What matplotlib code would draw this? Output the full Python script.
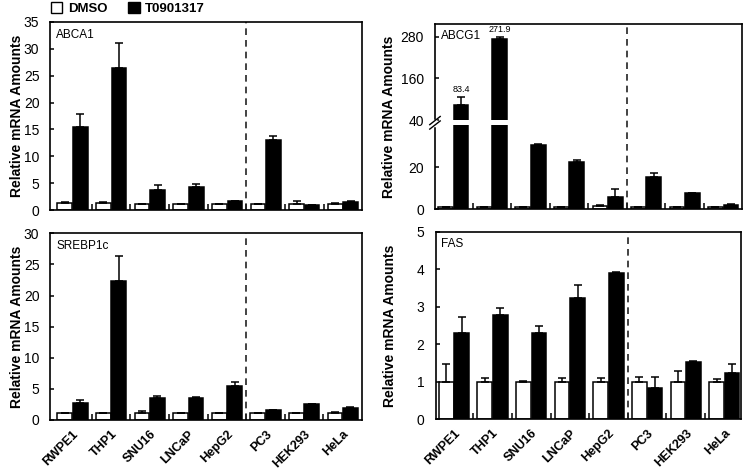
"""qPCR panels: LXR target genes after T0901317 treatment."""

import numpy as np
import matplotlib
matplotlib.use("Agg")
import matplotlib.pyplot as plt
from matplotlib.patches import Patch, Rectangle


CELLS = ["RWPE1", "THP1", "SNU16", "LNCaP", "HepG2", "PC3", "HEK293", "HeLa"]

abca1_dmso = [1.3, 1.3, 1.2, 1.2, 1.2, 1.2, 1.2, 1.2]
abca1_dmso_err = [0.1, 0.1, 0.0, 0.0, 0.0, 0.0, 0.5, 0.1]
abca1_t09 = [15.5, 26.5, 3.8, 4.3, 1.7, 13.0, 1.0, 1.5]
abca1_t09_err = [2.4, 4.6, 0.8, 0.6, 0.0, 0.7, 0.0, 0.2]

abcg1_dmso = [1.0, 1.0, 1.0, 1.0, 1.5, 1.0, 1.0, 1.0]
abcg1_dmso_err = [0.0, 0.0, 0.0, 0.0, 0.5, 0.0, 0.0, 0.0]
abcg1_t09 = [83.4, 271.9, 30.4, 22.3, 5.7, 15.5, 7.6, 2.0]
abcg1_t09_err = [22.0, 6.0, 0.5, 1.2, 4.0, 1.9, 0.0, 0.5]

srebp_dmso = [1.2, 1.2, 1.2, 1.2, 1.2, 1.2, 1.2, 1.2]
srebp_dmso_err = [0.0, 0.0, 0.2, 0.0, 0.0, 0.0, 0.0, 0.15]
srebp_t09 = [2.7, 22.4, 3.5, 3.5, 5.4, 1.6, 2.6, 1.9]
srebp_t09_err = [0.5, 3.9, 0.4, 0.2, 0.7, 0.0, 0.0, 0.2]

fas_dmso = [1.0, 1.0, 1.0, 1.0, 1.0, 1.0, 1.0, 1.0]
fas_dmso_err = [0.48, 0.1, 0.02, 0.1, 0.1, 0.13, 0.29, 0.07]
fas_t09 = [2.29, 2.78, 2.29, 3.22, 3.9, 0.84, 1.52, 1.22]
fas_t09_err = [0.43, 0.17, 0.19, 0.36, 0.02, 0.29, 0.02, 0.24]

# broken y axis for ABCG1: linear up to 40, jump, compressed above
BREAK = 40.0
GAP = 2.4
SQUEEZE = 0.166

NARROW = ["Liberation Sans Narrow", "Liberation Sans", "DejaVu Sans"]
ARIAL = ["Liberation Sans", "DejaVu Sans"]


def fwd(y):
    y = np.asarray(y, dtype=float)
    return np.where(y < BREAK, y, BREAK + GAP + (y - BREAK) * SQUEEZE)


def inv(t):
    t = np.asarray(t, dtype=float)
    upper = BREAK + (t - BREAK - GAP) / SQUEEZE
    return np.where(t < BREAK, t, np.where(t < BREAK + GAP, BREAK, upper))


def draw_panel(ax, title, dmso, dmso_err, t09, t09_err, xlim, show_labels):
    x = np.arange(len(CELLS))
    width = 0.38
    zeros = np.zeros(len(CELLS))
    ax.bar(x - 0.2, dmso, width, color="white", edgecolor="black", linewidth=1.1)
    ax.bar(x + 0.2, t09, width, color="black", edgecolor="black", linewidth=1.1)
    ax.errorbar(x - 0.2, dmso, yerr=[zeros, dmso_err], fmt="none", ecolor="black",
                elinewidth=1.1, capsize=2.8, capthick=1.1)
    ax.errorbar(x + 0.2, t09, yerr=[zeros, t09_err], fmt="none", ecolor="black",
                elinewidth=1.1, capsize=2.8, capthick=1.1)
    ax.axvline(4.5, color="#222222", linestyle=(0, (4, 3)), linewidth=1.2)

    ax.set_xlim(*xlim)
    ax.set_xticks(x)
    ax.set_xticks(np.arange(0.5, 7), minor=True)
    ax.tick_params(axis="x", which="major", length=0)
    ax.tick_params(axis="x", which="minor", direction="in", length=4, width=1.1)
    if show_labels:
        ax.set_xticklabels(CELLS, rotation=45, ha="right", rotation_mode="anchor",
                           family=ARIAL, fontweight="bold", fontsize=9)
        ax.tick_params(axis="x", which="major", pad=6)
    else:
        ax.set_xticklabels([])

    ax.tick_params(axis="y", direction="in", length=3, width=1.1, pad=8,
                   labelsize=10)
    for lab in ax.get_yticklabels():
        lab.set_family(NARROW)
    for spine in ax.spines.values():
        spine.set_linewidth(1.2)

    ax.text(0.018, 0.965, title, transform=ax.transAxes, ha="left", va="top",
            family=ARIAL, fontsize=8.5)
    ax.set_ylabel("Relative mRNA Amounts", family=NARROW, fontweight="bold",
                  fontsize=10, va="center")


def main():
    fig = plt.figure(figsize=(7.47, 4.69), dpi=100)

    ax1 = fig.add_axes([0.0676, 0.5522, 0.4170, 0.4009])
    ax2 = fig.add_axes([0.5823, 0.5537, 0.4110, 0.3951])
    ax3 = fig.add_axes([0.0676, 0.1045, 0.4170, 0.3981])
    ax4 = fig.add_axes([0.5833, 0.1066, 0.4087, 0.3994])

    # ABCA1
    ax1.set_ylim(0, 35)
    ax1.set_yticks(np.arange(0, 36, 5))
    draw_panel(ax1, "ABCA1", abca1_dmso, abca1_dmso_err, abca1_t09, abca1_t09_err,
               (-0.57, 7.49), False)

    # ABCG1 with broken axis
    ax2.set_yscale("function", functions=(fwd, inv))
    top_t = 88.24
    ax2.set_ylim(0, float(inv(top_t)))
    ax2.set_yticks([0, 20, 40, 160, 280])
    ax2.set_yticklabels(["0", "20", "40", "160", "280"])
    ax2.yaxis.set_minor_locator(matplotlib.ticker.NullLocator())
    draw_panel(ax2, "ABCG1", abcg1_dmso, abcg1_dmso_err, abcg1_t09, abcg1_t09_err,
               (-0.48, 7.49), False)
    lo = BREAK / top_t
    hi = (BREAK + GAP) / top_t
    ax2.add_patch(Rectangle((0.0, lo), 1.45, hi - lo, transform=ax2.get_xaxis_transform(),
                            facecolor="white", edgecolor="none", zorder=2.2))
    mid = (lo + hi) / 2
    dx, dy = 0.017, 0.022
    ax2.plot([0, 0], [mid - 0.012, mid + 0.012], transform=ax2.transAxes,
             color="white", lw=2.5, clip_on=False, zorder=3)
    for off in (-0.012, 0.012):
        ax2.plot([-dx, dx], [mid + off - dy, mid + off + dy], transform=ax2.transAxes,
                 color="black", lw=1.0, clip_on=False, zorder=3.1)
    for i in (0, 1):
        ax2.annotate(f"{abcg1_t09[i]}", xy=(i + 0.2, abcg1_t09[i] + abcg1_t09_err[i]),
                     xytext=(0, 2.5), textcoords="offset points", ha="center",
                     va="bottom", family=NARROW, fontsize=6.5)

    # SREBP1c
    ax3.set_ylim(0, 30)
    ax3.set_yticks(np.arange(0, 31, 5))
    draw_panel(ax3, "SREBP1c", srebp_dmso, srebp_dmso_err, srebp_t09, srebp_t09_err,
               (-0.57, 7.5), True)

    # FAS
    ax4.set_ylim(0, 5)
    ax4.set_yticks(np.arange(0, 6, 1))
    draw_panel(ax4, "FAS", fas_dmso, fas_dmso_err, fas_t09, fas_t09_err,
               (-0.47, 7.43), True)

    ax1.yaxis.set_label_coords(-0.108, 0.5)
    ax3.yaxis.set_label_coords(-0.108, 0.5)
    ax2.yaxis.set_label_coords(-0.151, 0.5)
    ax4.yaxis.set_label_coords(-0.151, 0.5)

    handles = [Patch(facecolor="white", edgecolor="black", linewidth=1.0),
               Patch(facecolor="black", edgecolor="black")]
    fig.legend(handles, ["DMSO", "T0901317"], loc="upper left",
               bbox_to_anchor=(0.066, 1.0), ncol=2, frameon=False,
               handlelength=0.85, handleheight=0.85, handletextpad=0.4,
               columnspacing=1.6, borderpad=0.15, borderaxespad=0,
               prop={"family": ARIAL, "weight": "bold", "size": 9.5})

    fig.savefig("out.png", dpi=100)
    plt.close(fig)


if __name__ == "__main__":
    main()
